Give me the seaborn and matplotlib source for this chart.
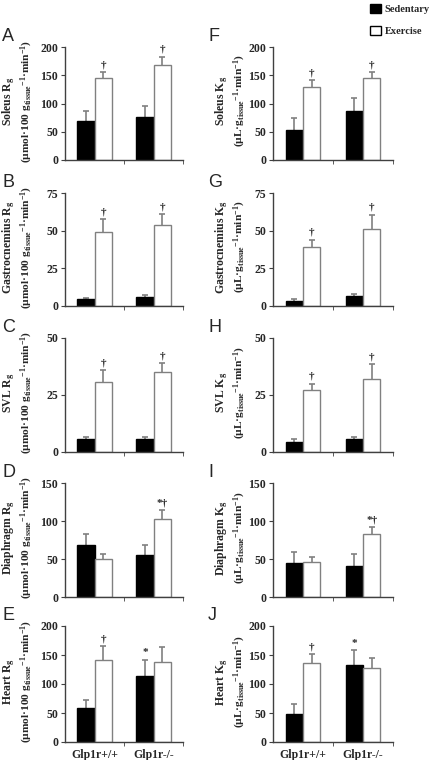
import pandas as pd
import matplotlib.pyplot as plt
import seaborn as sns
from matplotlib.patches import Patch

genotypes = ["Glp1r+/+", "Glp1r-/-"]
groups = ["Sedentary", "Exercise"]

# values: [[Sedentary WT, Sedentary KO], [Exercise WT, Exercise KO]]
soleus_rg = [[69, 76], [145, 169]]
soleus_rg_sem = [[18, 20], [11, 14]]
gastro_rg = [[4.4, 6.0], [49, 54]]
gastro_rg_sem = [[1.1, 1.5], [8.5, 7]]
svl_rg = [[5.6, 5.6], [30.7, 35]]
svl_rg_sem = [[1.0, 1.0], [5.3, 4]]
diaph_rg = [[68, 55], [50, 102.6]]
diaph_rg_sem = [[15, 14], [7, 12]]
heart_rg = [[59, 114], [142, 138]]
heart_rg_sem = [[13, 28], [23, 25]]

soleus_kg = [[53.5, 86], [130, 145]]
soleus_kg_sem = [[21, 23], [11, 10]]
gastro_kg = [[3.5, 6.6], [39, 51]]
gastro_kg_sem = [[1.1, 1.1], [5, 9.6]]
svl_kg = [[4.4, 5.6], [27.2, 31.8]]
svl_kg_sem = [[1.2, 1.0], [2.8, 6.7]]
diaph_kg = [[44.7, 40.7], [46, 82.3]]
diaph_kg_sem = [[15, 16], [6, 10]]
heart_kg = [[49, 132], [136.6, 127]]
heart_kg_sem = [[17, 26], [15, 17]]

# significance marks, same layout as values
marks_exercise = [["", ""], ["†", "†"]]
marks_diaphragm = [["", ""], ["", "*†"]]
marks_heart = [["", "*"], ["†", ""]]

rg_unit = "(µmol·100 g$_{tissue}$$^{-1}$·min$^{-1}$)"
kg_unit = "(µL·g$_{tissue}$$^{-1}$·min$^{-1}$)"

left_panels = [
    ("A", "Soleus R$_g$", soleus_rg, soleus_rg_sem, marks_exercise, 200, 50),
    ("B", "Gastrocnemius R$_g$", gastro_rg, gastro_rg_sem, marks_exercise, 75, 25),
    ("C", "SVL R$_g$", svl_rg, svl_rg_sem, marks_exercise, 50, 25),
    ("D", "Diaphragm R$_g$", diaph_rg, diaph_rg_sem, marks_diaphragm, 150, 50),
    ("E", "Heart R$_g$", heart_rg, heart_rg_sem, marks_heart, 200, 50),
]
right_panels = [
    ("F", "Soleus K$_g$", soleus_kg, soleus_kg_sem, marks_exercise, 200, 50),
    ("G", "Gastrocnemius K$_g$", gastro_kg, gastro_kg_sem, marks_exercise, 75, 25),
    ("H", "SVL K$_g$", svl_kg, svl_kg_sem, marks_exercise, 50, 25),
    ("I", "Diaphragm K$_g$", diaph_kg, diaph_kg_sem, marks_diaphragm, 150, 50),
    ("J", "Heart K$_g$", heart_kg, heart_kg_sem, marks_heart, 200, 50),
]

sns.set_style("ticks")
plt.rcParams["font.family"] = ["Liberation Serif", "DejaVu Serif"]
plt.rcParams["font.weight"] = "bold"
plt.rcParams["axes.labelweight"] = "bold"
plt.rcParams["mathtext.fontset"] = "custom"
plt.rcParams["mathtext.rm"] = "Liberation Serif:bold"
plt.rcParams["mathtext.it"] = "Liberation Serif:bold"
plt.rcParams["mathtext.bf"] = "Liberation Serif:bold"
plt.rcParams["mathtext.default"] = "rm"

W, H = 433, 760
fig = plt.figure(figsize=(W / 100, H / 100), dpi=100)

rows = [(47, 160), (193, 306), (338, 452), (483, 597), (626, 742)]
# axis left, axis right, letter x, panels, unit line, label line centres
cols = [(65, 183, 2, left_panels, rg_unit, 9, 27),
        (273, 393, 208, right_panels, kg_unit, 222, 240)]
edges = ["black", "#808080"]

for x0, x1, letter_x, panels, unit, l1_x, l2_x in cols:
    for r, (top, bottom) in enumerate(rows):
        letter, name, mean, sem, marks, ymax, step = panels[r]
        ax = fig.add_axes([x0 / W, 1 - bottom / H, (x1 - x0) / W, (bottom - top) / H])
        df = pd.DataFrame({
            "genotype": genotypes * 2,
            "group": [g for g in groups for _ in genotypes],
            "value": mean[0] + mean[1],
        })
        sns.barplot(data=df, x="genotype", y="value", hue="group", order=genotypes,
                    hue_order=groups, palette=["black", "white"], saturation=1,
                    width=0.58, errorbar=None, legend=False, ax=ax)
        bar_groups = list(ax.containers)
        for i, cont in enumerate(bar_groups):
            for j, bar in enumerate(cont.patches):
                bar.set_edgecolor(edges[i])
                bar.set_linewidth(1.0)
                x = bar.get_x() + bar.get_width() / 2
                y = bar.get_height()
                ax.errorbar(x, y, yerr=sem[i][j], fmt="none", ecolor="#808080",
                            elinewidth=1.2, capsize=2.5, capthick=1.2, zorder=0.5)
                if marks[i][j]:
                    ax.annotate(marks[i][j], (x, y + sem[i][j]), xytext=(0, 2),
                                textcoords="offset points", ha="center", va="bottom",
                                fontsize=8)

        ax.set_xlim(-0.5, 1.5)
        ax.set_ylim(0, ymax)
        ax.set_yticks(range(0, ymax + 1, step))
        ax.set_xticks([0, 1])
        ax.set_xticks([0.5, 1.5], minor=True)
        ax.tick_params(axis="x", which="major", length=0, labelsize=8.5, pad=5)
        ax.tick_params(axis="x", which="minor", length=3, color="#404040")
        ax.tick_params(axis="y", length=3, labelsize=8.5, pad=2, color="#404040")
        if r < len(rows) - 1:
            ax.set_xticklabels([])
        ax.set_xlabel("")
        ax.set_ylabel("")
        span = x1 - x0
        ax.text(-(x0 - l1_x) / span, 0.52, name, transform=ax.transAxes,
                rotation=90, ha="center", va="center", fontsize=8.5)
        ax.text(-(x0 - l2_x) / span, 0.52, unit, transform=ax.transAxes,
                rotation=90, ha="center", va="center", fontsize=8.2)
        for s in ["top", "right"]:
            ax.spines[s].set_visible(False)
        for s in ["left", "bottom"]:
            ax.spines[s].set_color("#404040")
            ax.spines[s].set_linewidth(1.0)

        fig.text(letter_x / W, 1 - (top - 6) / H, letter, fontsize=13,
                 family="Liberation Sans", fontweight="normal", va="baseline")

handles = [Patch(facecolor="black", edgecolor="black"),
           Patch(facecolor="white", edgecolor="black")]
fig.legend(handles, groups, loc="upper right", bbox_to_anchor=(0.998, 0.998),
           frameon=False, fontsize=7.5, handlelength=1.0, handleheight=1.0,
           labelspacing=1.15, handletextpad=0.4, borderaxespad=0.0, borderpad=0.2)

fig.savefig("out.png", dpi=100)
